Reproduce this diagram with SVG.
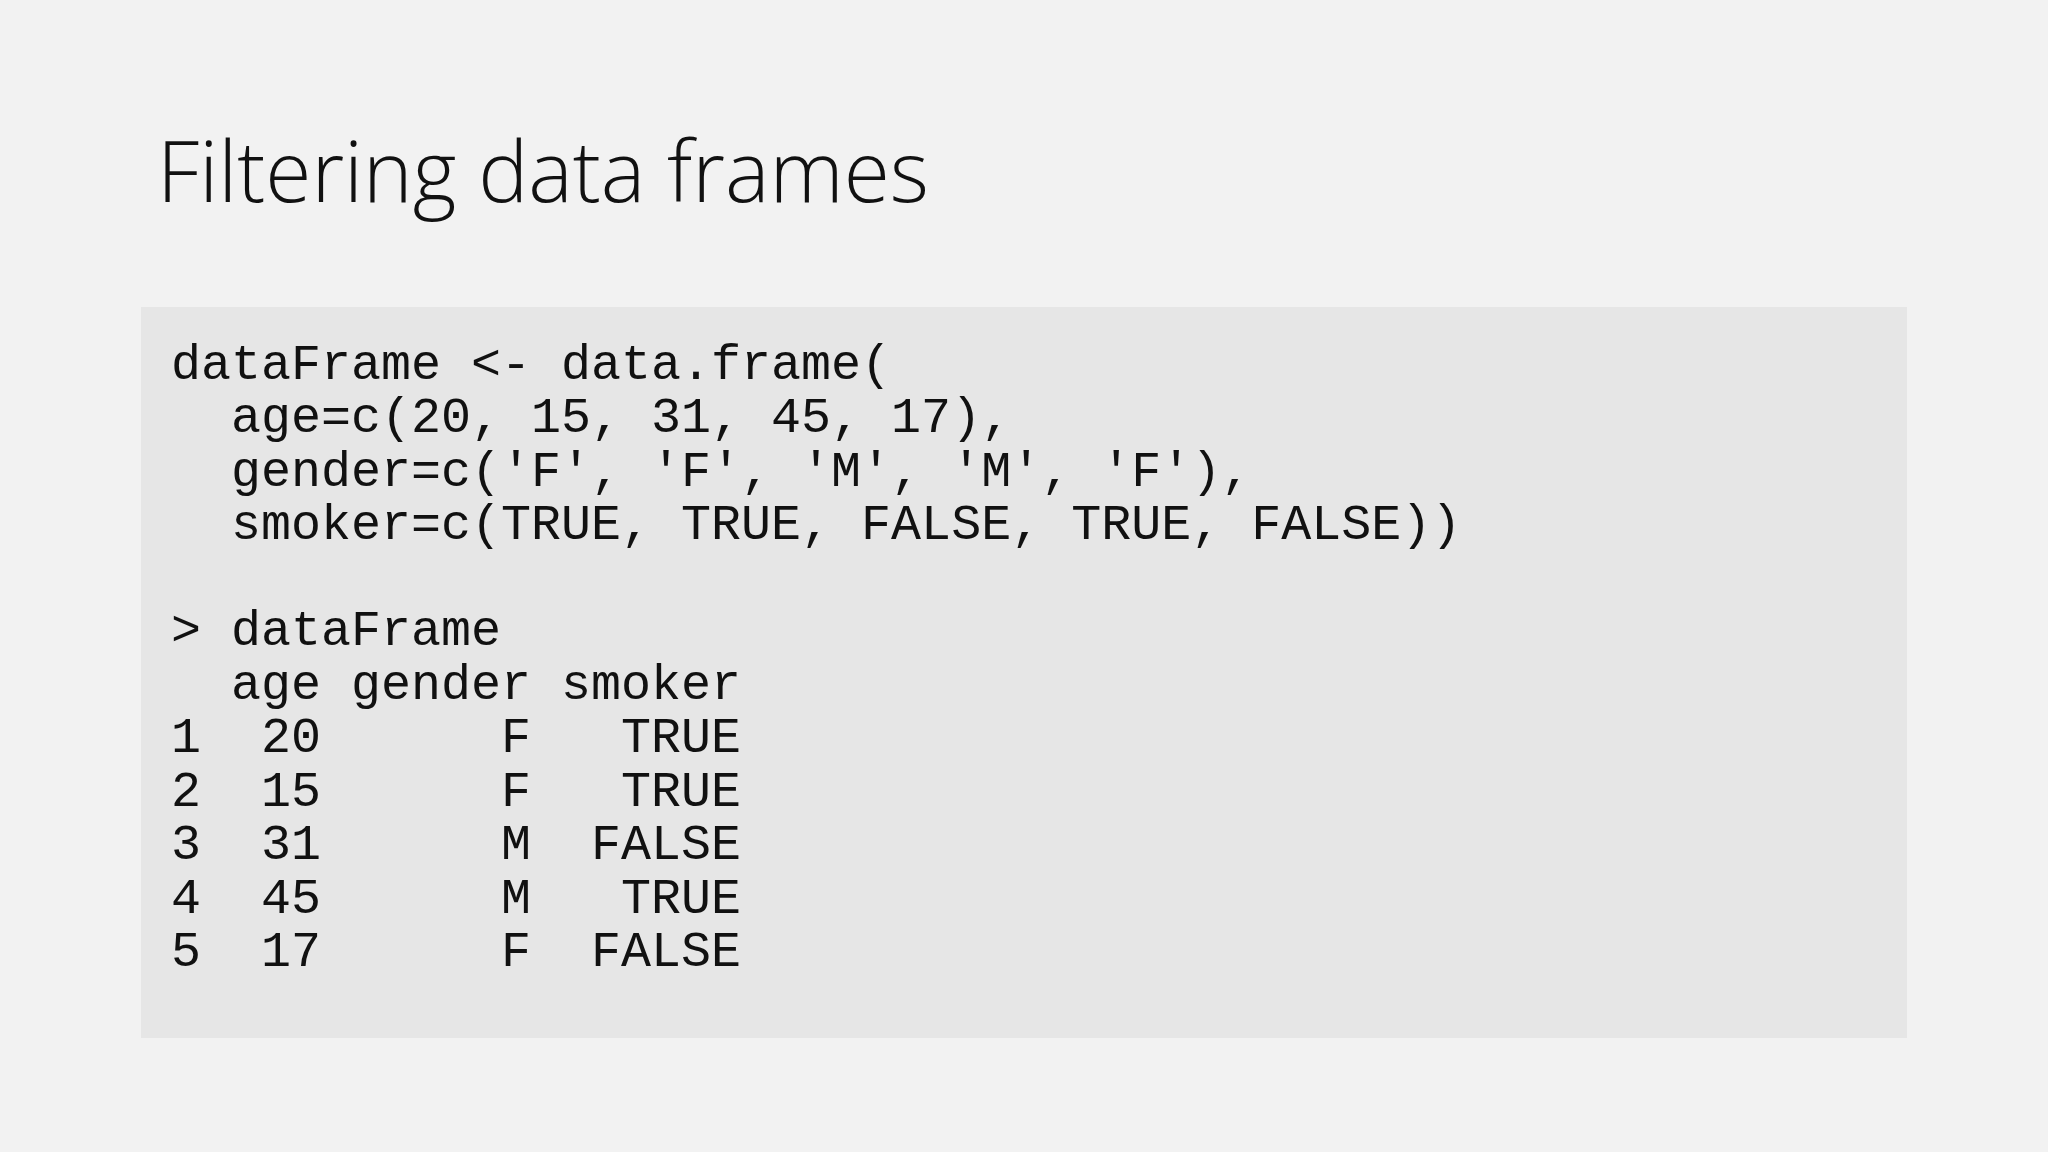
<svg xmlns="http://www.w3.org/2000/svg" width="2048" height="1152" viewBox="0 0 2048 1152">
<style>
.code{font-family:"Liberation Mono","DejaVu Sans Mono",monospace;font-size:50px;fill:#111;white-space:pre}
.title{font-family:"Open Sans","Liberation Sans",sans-serif;font-weight:300;font-size:84px;fill:#111}
</style>
<rect width="2048" height="1152" fill="#f2f2f2"/>
<g id="title"><text class="title" x="157" y="202">Filtering data frames</text></g>
<g id="codebox">
<rect x="141" y="307" width="1766" height="731" fill="#e6e6e6"/>
<text class="code" xml:space="preserve" x="171" y="379">dataFrame &lt;- data.frame(</text>
<text class="code" xml:space="preserve" x="171" y="432">  age=c(20, 15, 31, 45, 17),</text>
<text class="code" xml:space="preserve" x="171" y="486">  gender=c('F', 'F', 'M', 'M', 'F'),</text>
<text class="code" xml:space="preserve" x="171" y="539">  smoker=c(TRUE, TRUE, FALSE, TRUE, FALSE))</text>
<text class="code" xml:space="preserve" x="171" y="645">&gt; dataFrame</text>
<text class="code" xml:space="preserve" x="171" y="699">  age gender smoker</text>
<text class="code" xml:space="preserve" x="171" y="752">1  20      F   TRUE</text>
<text class="code" xml:space="preserve" x="171" y="806">2  15      F   TRUE</text>
<text class="code" xml:space="preserve" x="171" y="859">3  31      M  FALSE</text>
<text class="code" xml:space="preserve" x="171" y="913">4  45      M   TRUE</text>
<text class="code" xml:space="preserve" x="171" y="966">5  17      F  FALSE</text>
</g>
</svg>
